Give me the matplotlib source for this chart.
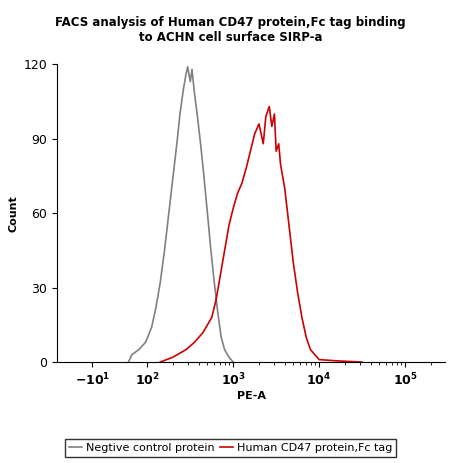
import matplotlib
matplotlib.use('Agg')
import matplotlib.pyplot as plt
import numpy as np

# x in "decade units": 2 -> 10^2, 3 -> 10^3 ...
neg_x = [1.78, 1.82, 1.90, 1.98, 2.05, 2.10, 2.15, 2.20, 2.25, 2.30, 2.35, 2.38, 2.42, 2.45,
         2.47, 2.50, 2.52, 2.55, 2.58, 2.62, 2.65, 2.70, 2.74, 2.78, 2.82, 2.86, 2.90, 2.95, 3.00]
neg_y = [0, 3, 5, 8, 14, 22, 32, 45, 60, 75, 90, 100, 110, 116,
         119, 113, 118, 108, 100, 88, 78, 60, 45, 32, 20, 10, 5, 2, 0]

cd47_x = [2.15, 2.30, 2.45, 2.55, 2.65, 2.75, 2.80, 2.85, 2.90, 2.95, 3.00, 3.05, 3.10, 3.15,
          3.20, 3.25, 3.30, 3.35, 3.38, 3.42, 3.45, 3.48, 3.50, 3.53, 3.55, 3.60, 3.65, 3.70,
          3.75, 3.80, 3.85, 3.90, 3.95, 4.00, 4.20, 4.50]
cd47_y = [0, 2, 5, 8, 12, 18, 25, 35, 45, 55, 62, 68, 72, 78,
          85, 92, 96, 88, 99, 103, 95, 100, 85, 88, 80, 70, 55, 40,
          28, 18, 10, 5, 3, 1, 0.5, 0]

tick_pos = [1.36, 2, 3, 4, 5]
tick_labels = ['$\\mathbf{-10^{1}}$', '$\\mathbf{10^{2}}$', '$\\mathbf{10^{3}}$',
               '$\\mathbf{10^{4}}$', '$\\mathbf{10^{5}}$']

fig = plt.figure(figsize=(4.61, 4.63), dpi=100)
ax = fig.add_axes([0.124, 0.218, 0.842, 0.643])
ax.plot(neg_x, neg_y, color='#808080', lw=1.2, label='Negtive control protein')
ax.plot(cd47_x, cd47_y, color='#cc0000', lw=1.2, label='Human CD47 protein,Fc tag')
ax.set_xlim(0.95, 5.47)
ax.set_ylim(0, 120)
ax.set_yticks([0, 30, 60, 90, 120])
ax.set_xticks(tick_pos)
ax.set_xticklabels(tick_labels, fontsize=9)
minor = [d + np.log10(k) for d in (2, 3, 4, 5) for k in range(2, 10) if d + np.log10(k) < 5.47]
ax.set_xticks(minor, minor=True)
ax.tick_params(axis='x', which='minor', length=2)
ax.tick_params(axis='y', labelsize=9)
for s in ['top', 'right']:
    ax.spines[s].set_visible(False)
ax.set_xlabel('PE-A', fontsize=8, fontweight='bold', labelpad=2)
ax.set_ylabel('Count', fontsize=8, fontweight='bold')
fig.suptitle('FACS analysis of Human CD47 protein,Fc tag binding\nto ACHN cell surface SIRP-a',
             fontsize=8.5, fontweight='bold', y=0.965)
fig.legend(loc='lower center', bbox_to_anchor=(0.5, 0.0), ncol=2, fontsize=8,
           fancybox=False, edgecolor='black', handlelength=1.2, columnspacing=0.5,
           handletextpad=0.3)
fig.savefig('out.png', dpi=100)
